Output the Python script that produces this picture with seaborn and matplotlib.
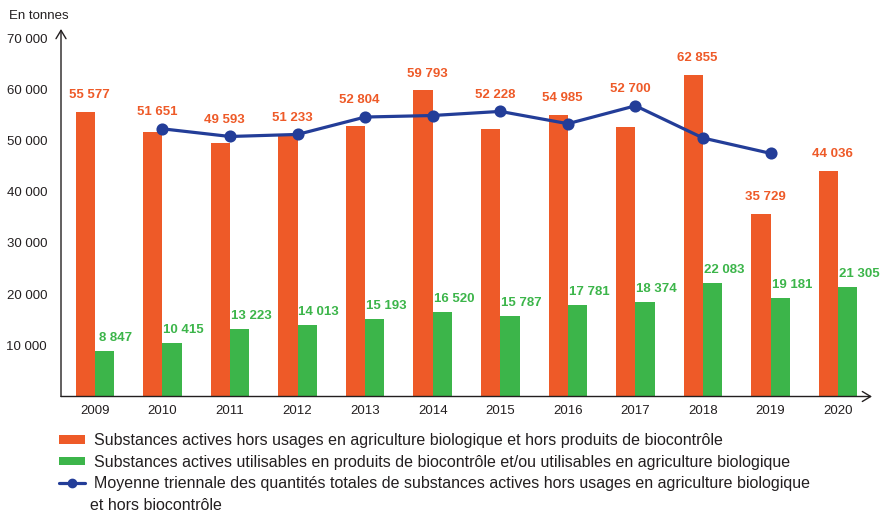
import numpy as np
import pandas as pd
import seaborn as sns
import matplotlib.pyplot as plt
from matplotlib.patches import Patch
from matplotlib.lines import Line2D

# Data
years = ["2009", "2010", "2011", "2012", "2013", "2014",
         "2015", "2016", "2017", "2018", "2019", "2020"]
hors_bio = [55577, 51651, 49593, 51233, 52804, 59793,
            52228, 54985, 52700, 62855, 35729, 44036]
biocontrole = [8847, 10415, 13223, 14013, 15193, 16520,
               15787, 17781, 18374, 22083, 19181, 21305]
moyenne = [np.nan, 52300, 50800, 51200, 54600, 54900,
           55700, 53300, 56800, 50500, 47500, np.nan]

y_ticks = [10000, 20000, 30000, 40000, 50000, 60000, 70000]
y_tick_labels = ["10 000", "20 000", "30 000", "40 000", "50 000", "60 000", "70 000"]

lab_hors = "Substances actives hors usages en agriculture biologique et hors produits de biocontrôle"
lab_bio = "Substances actives utilisables en produits de biocontrôle et/ou utilisables en agriculture biologique"
lab_moy = "Moyenne triennale des quantités totales de substances actives hors usages en agriculture biologique"
lab_moy_2 = "et hors biocontrôle"

ORANGE = "#EE5A28"
GREEN = "#3CB54A"
BLUE = "#233D98"
DARK = "#231F20"

df = pd.DataFrame({
    "annee": years * 2,
    "serie": [lab_hors] * len(years) + [lab_bio] * len(years),
    "tonnes": hors_bio + biocontrole,
})
line_df = pd.DataFrame({"annee": years, "moyenne": moyenne}).dropna()

sns.set_theme(style="white")
plt.rcParams["font.family"] = ["Liberation Sans", "DejaVu Sans"]
plt.rcParams["text.color"] = DARK

fig = plt.figure(figsize=(8.84, 5.12), dpi=100)
ax = fig.add_axes([61 / 884, 1 - 396.5 / 512, 811 / 884, 367.5 / 512])

sns.barplot(data=df, x="annee", y="tonnes", hue="serie", order=years,
            palette=[ORANGE, GREEN], width=0.57, saturation=1,
            linewidth=0, legend=False, ax=ax)
sns.pointplot(data=line_df, x="annee", y="moyenne", order=years,
              color=BLUE, markers="o", markersize=7, linewidth=2.3,
              errorbar=None, ax=ax)

ax.set_xlim(-0.5, 11.5)
ax.set_ylim(0, 71800)
ax.set_xlabel("")
ax.set_ylabel("")
ax.set_yticks(y_ticks, y_tick_labels)
ax.tick_params(axis="x", length=0, pad=6, labelsize=9.5, labelcolor=DARK)
ax.tick_params(axis="y", length=0, pad=10, labelsize=9.5, labelcolor=DARK)
for s in ax.spines.values():
    s.set_visible(False)

# arrowed axes
arrow = dict(arrowstyle="->,head_length=0.5,head_width=0.3", color=DARK, lw=1,
             shrinkA=0, shrinkB=0)
ax.annotate("", xy=(0, 1), xytext=(0, 0), xycoords="axes fraction", arrowprops=arrow)
ax.annotate("", xy=(1, 0), xytext=(0, 0), xycoords="axes fraction", arrowprops=arrow)


def fmt(v):
    return f"{v:,}".replace(",", " ")


# value labels (orange ones pushed above the line when it crosses just above the bar)
for i, bar in enumerate(ax.containers[0]):
    cx = bar.get_x() + bar.get_width() / 2
    top = hors_bio[i]
    m = moyenne[i]
    if not np.isnan(m) and top < m < top + 6000:
        top = m
    ax.annotate(fmt(hors_bio[i]), xy=(cx + 0.06, top), xytext=(0, 12),
                textcoords="offset points", ha="center", va="center",
                color=ORANGE, fontsize=9.5, fontweight="bold")
for i, bar in enumerate(ax.containers[1]):
    cx = bar.get_x() + bar.get_width() / 2
    ax.annotate(fmt(biocontrole[i]), xy=(cx + 0.17, biocontrole[i]), xytext=(0, 9.5),
                textcoords="offset points", ha="center", va="center",
                color=GREEN, fontsize=9.5, fontweight="bold")

fig.text(9 / 884, 1 - 16 / 512, "En tonnes", ha="left", va="center", fontsize=9.5)

handles = [
    Patch(facecolor=ORANGE, edgecolor="none"),
    Patch(facecolor=GREEN, edgecolor="none"),
    Line2D([], [], color=BLUE, lw=2.3, marker="o", markersize=6),
]
fig.legend(handles, [lab_hors, lab_bio, lab_moy], loc="upper left",
           bbox_to_anchor=(59 / 884, 1 - 433 / 512), frameon=False,
           fontsize=11.5, handlelength=1.6, handleheight=0.45,
           handletextpad=0.6, labelspacing=0.42, borderpad=0, borderaxespad=0)
fig.text(90 / 884, 1 - 505 / 512, lab_moy_2, ha="left", va="center", fontsize=11.5)

fig.savefig("out.png", dpi=100)
